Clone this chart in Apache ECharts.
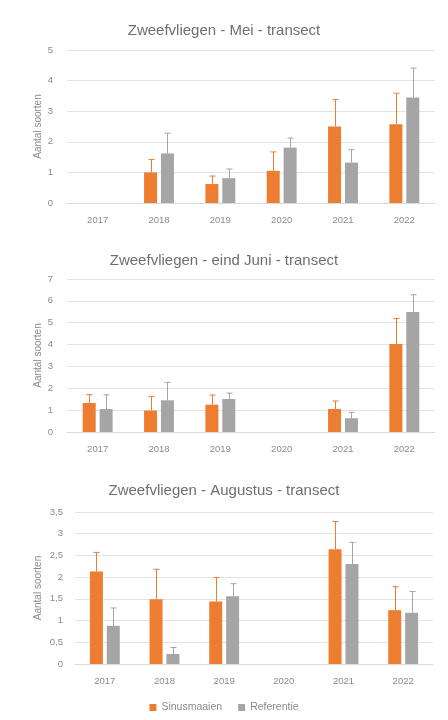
<!DOCTYPE html>
<html>
<head>
<meta charset="utf-8">
<script src="https://cdn.jsdelivr.net/npm/echarts@6/dist/echarts.min.js"></script>
<style>
html,body{margin:0;padding:0;background:#fff;}
#chart{width:448px;height:720px;}
</style>
</head>
<body>
<div id="chart"></div>
<script>
// ---- data ----
const years = ['2017', '2018', '2019', '2020', '2021', '2022'];
const seriesNames = ['Sinusmaaien', 'Referentie'];
const titles = ['Zweefvliegen - Mei - transect', 'Zweefvliegen - eind Juni - transect', 'Zweefvliegen - Augustus - transect'];
const yAxisName = 'Aantal soorten';

// Mei
const meiSinus    = [null, 1.00, 0.62, 1.05, 2.50, 2.57];
const meiSinusTop = [null, 1.42, 0.88, 1.67, 3.38, 3.59];
const meiRef      = [null, 1.62, 0.81, 1.81, 1.32, 3.45];
const meiRefTop   = [null, 2.28, 1.11, 2.12, 1.74, 4.41];
const meiMax = 5, meiInterval = 1;

// eind Juni
const juniSinus    = [1.33, 0.98, 1.25, null, 1.05, 4.03];
const juniSinusTop = [1.71, 1.63, 1.69, null, 1.42, 5.19];
const juniRef      = [1.05, 1.45, 1.51, null, 0.63, 5.49];
const juniRefTop   = [1.70, 2.27, 1.78, null, 0.90, 6.28];
const juniMax = 7, juniInterval = 1;

// Augustus
const augSinus    = [2.13, 1.49, 1.44, null, 2.64, 1.24];
const augSinusTop = [2.57, 2.18, 1.99, null, 3.28, 1.78];
const augRef      = [0.88, 0.23, 1.56, null, 2.30, 1.18];
const augRefTop   = [1.29, 0.38, 1.85, null, 2.80, 1.67];
const augMax = 3.5, augInterval = 0.5;

// ---- styling ----
const ORANGE = '#ED7D31';
const GRAY = '#A5A5A5';
const FONT = 'Liberation Sans';
const BAR_W = 13;
const GAP_PCT = 30;
const OFFSET = (BAR_W + BAR_W * GAP_PCT / 100) / 2;

const panels = [
  {title: titles[0], sinus: meiSinus, sinusTop: meiSinusTop, ref: meiRef, refTop: meiRefTop, max: meiMax, interval: meiInterval,
   grid: {left: 67, right: 13, top: 50, height: 153}, titleTop: 18, nameGap: 24},
  {title: titles[1], sinus: juniSinus, sinusTop: juniSinusTop, ref: juniRef, refTop: juniRefTop, max: juniMax, interval: juniInterval,
   grid: {left: 67, right: 13, top: 279, height: 153}, titleTop: 248, nameGap: 24},
  {title: titles[2], sinus: augSinus, sinusTop: augSinusTop, ref: augRef, refTop: augRefTop, max: augMax, interval: augInterval,
   grid: {left: 75, right: 15, top: 512, height: 152}, titleTop: 478, nameGap: 32}
];

function errSeries(idx, vals, tops, color, sign) {
  const data = [];
  vals.forEach((v, i) => { if (v != null && tops[i] != null) data.push([i, v, tops[i]]); });
  return {
    type: 'custom', xAxisIndex: idx, yAxisIndex: idx, silent: true, z: 5,
    data: data,
    renderItem: function (params, api) {
      const x = api.value(0);
      const lo = api.coord([x, api.value(1)]);
      const hi = api.coord([x, api.value(2)]);
      const cx = Math.round(lo[0] + sign * OFFSET) + 0.5;
      return {
        type: 'group',
        children: [
          {type: 'line', shape: {x1: cx, y1: lo[1], x2: cx, y2: hi[1]}, style: {stroke: color, lineWidth: 1}},
          {type: 'line', shape: {x1: cx - 3, y1: hi[1], x2: cx + 3, y2: hi[1]}, style: {stroke: color, lineWidth: 1}}
        ]
      };
    }
  };
}

const option = {
  backgroundColor: '#fff',
  animation: false,
  textStyle: {fontFamily: FONT},
  title: panels.map(p => ({
    text: p.title, left: 'center', top: p.titleTop,
    textStyle: {fontFamily: FONT, fontSize: 15, fontWeight: 'normal', color: '#6e6e6e'}
  })),
  legend: {
    data: seriesNames, bottom: 2, left: 'center', icon: 'rect', itemWidth: 7, itemHeight: 7, itemGap: 16,
    textStyle: {fontFamily: FONT, fontSize: 10.5, color: '#8a8a8a'}
  },
  grid: panels.map(p => p.grid),
  xAxis: panels.map((p, i) => ({
    type: 'category', gridIndex: i, data: years,
    axisLine: {lineStyle: {color: '#d9d9d9'}}, axisTick: {show: false},
    axisLabel: {fontFamily: FONT, fontSize: 9.5, color: '#8a8a8a', margin: 12}
  })),
  yAxis: panels.map((p, i) => ({
    type: 'value', gridIndex: i, min: 0, max: p.max, interval: p.interval,
    name: yAxisName, nameLocation: 'middle', nameRotate: 90, nameGap: p.nameGap,
    nameMoveOverlap: false,
    nameTextStyle: {fontFamily: FONT, fontSize: 10, color: '#8a8a8a'},
    axisLine: {show: false}, axisTick: {show: false},
    splitLine: {lineStyle: {color: '#e3e3e3'}},
    axisLabel: {fontFamily: FONT, fontSize: 9.5, color: '#8a8a8a', margin: i === 2 ? 12 : 14,
      formatter: v => String(v).replace('.', ',')}
  })),
  series: []
};

panels.forEach((p, i) => {
  option.series.push({
    name: seriesNames[0], type: 'bar', xAxisIndex: i, yAxisIndex: i, data: p.sinus,
    barWidth: BAR_W, barGap: GAP_PCT + '%', itemStyle: {color: ORANGE}
  });
  option.series.push({
    name: seriesNames[1], type: 'bar', xAxisIndex: i, yAxisIndex: i, data: p.ref,
    barWidth: BAR_W, barGap: GAP_PCT + '%', itemStyle: {color: GRAY}
  });
  option.series.push(errSeries(i, p.sinus, p.sinusTop, ORANGE, -1));
  option.series.push(errSeries(i, p.ref, p.refTop, GRAY, 1));
});

const chart = echarts.init(document.getElementById('chart'), null, {renderer: 'canvas'});
chart.setOption(option);
</script>
</body>
</html>
